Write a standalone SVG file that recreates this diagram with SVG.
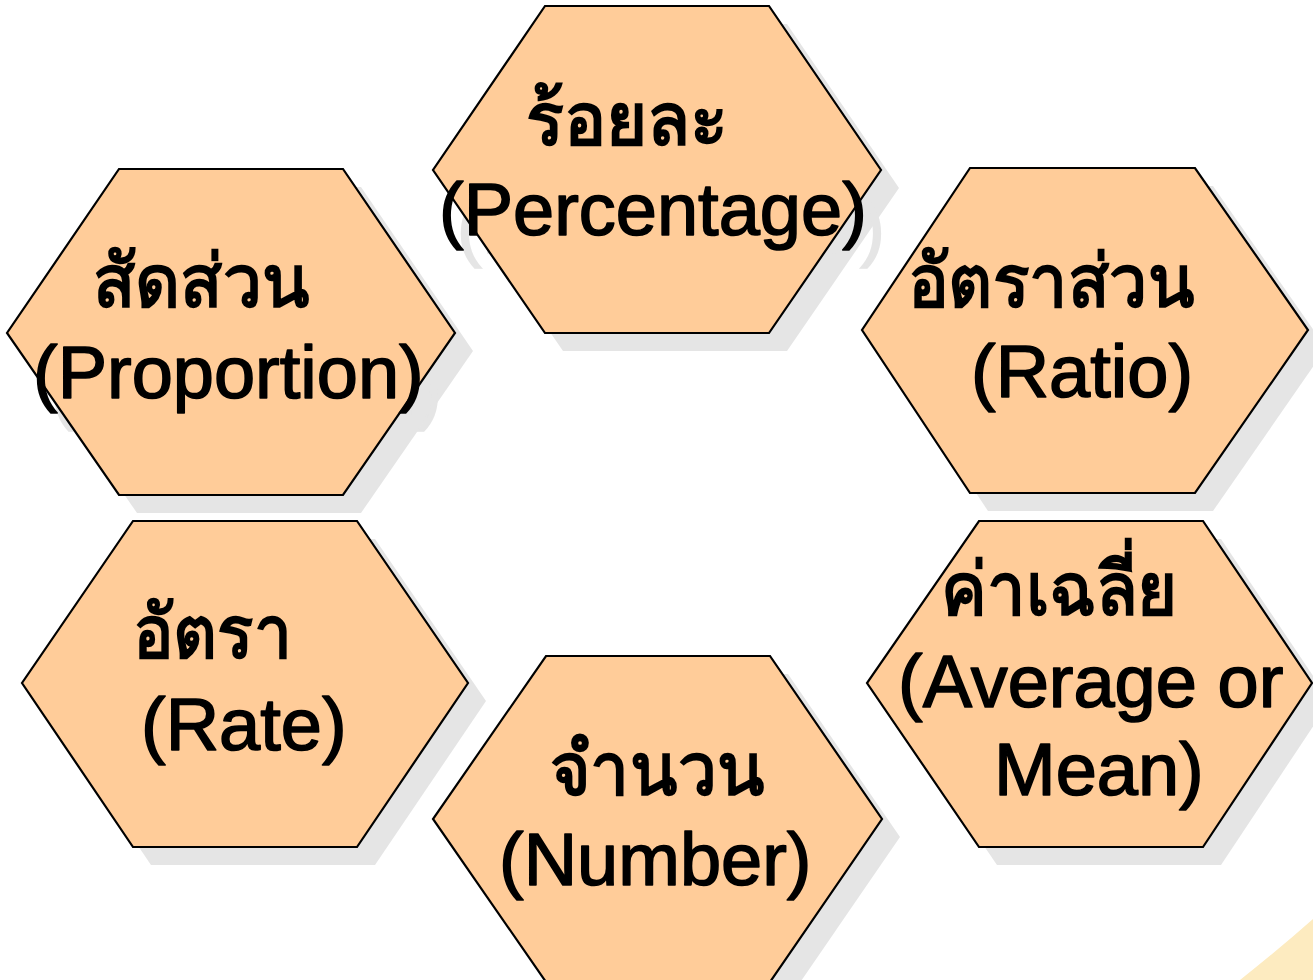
<svg xmlns="http://www.w3.org/2000/svg" width="1313" height="980" viewBox="0 0 1313 980">
  <style>
    .hex { fill: #ffcc99; stroke: #000; stroke-width: 2.2; stroke-linejoin: miter; }
    .shadow { fill: #e5e5e5; stroke: none; }
    .shadow text { stroke: #e5e5e5; stroke-width: 1.6; }
    .th { font-family: "Noto Sans", "DejaVu Sans", "Liberation Sans", sans-serif; font-weight: bold; font-size: 74px; }
    .en { font-family: "Liberation Sans", Arial, sans-serif; font-size: 74px; }
    .label { fill: #000; }
    .en.label { stroke: #000; stroke-width: 1.6; stroke-linejoin: round; }
  </style>

  <rect width="1313" height="980" fill="#ffffff"/>
  <!-- pale corner accent -->
  <path d="M1240,980 Q1278,950 1313,919 L1313,980 Z" fill="#fdebc0"/>

  <!-- drop shadows (shape + text), offset 18px down-right -->
  <g id="shadows" class="shadow" transform="translate(18,18)">
    <polygon points="545,6 769,6 881,170 769,333 545,333 433,170"/>
    <text class="en" x="439" y="235">(Percentage)</text>
    <polygon points="119,169 343,169 455,333 343,495 119,495 7,333"/>
    <text class="en" x="33" y="398">(Proportion)</text>
    <polygon points="970,168 1195,168 1308,330 1195,493 970,493 862,330"/>
    <polygon points="133,521 357,521 468,683 357,847 133,847 22,683"/>
    <polygon points="979,521 1203,521 1312,683 1203,847 979,847 867,683"/>
    <polygon points="546,656 770,656 882,819 770,982 546,982 433,819"/>
  </g>

  <g id="node-percentage">
    <polygon class="hex" points="545,6 769,6 881,170 769,333 545,333 433,170"/>
    <text class="th label" x="526" y="145" textLength="202" lengthAdjust="spacingAndGlyphs">ร้อยละ</text>
    <text class="en label" x="439" y="235">(Percentage)</text>
  </g>

  <g id="node-proportion">
    <polygon class="hex" points="119,169 343,169 455,333 343,495 119,495 7,333"/>
    <text class="th label" x="93" y="307" textLength="217" lengthAdjust="spacingAndGlyphs">สัดส่วน</text>
    <text class="en label" x="33" y="398">(Proportion)</text>
  </g>

  <g id="node-ratio">
    <polygon class="hex" points="970,168 1195,168 1308,330 1195,493 970,493 862,330"/>
    <text class="th label" x="908" y="307" textLength="287" lengthAdjust="spacingAndGlyphs">อัตราส่วน</text>
    <text class="en label" x="971" y="397">(Ratio)</text>
  </g>

  <g id="node-rate">
    <polygon class="hex" points="133,521 357,521 468,683 357,847 133,847 22,683"/>
    <text class="th label" x="133" y="658" textLength="159" lengthAdjust="spacingAndGlyphs">อัตรา</text>
    <text class="en label" x="141" y="750">(Rate)</text>
  </g>

  <g id="node-average">
    <polygon class="hex" points="979,521 1203,521 1312,683 1203,847 979,847 867,683"/>
    <text class="th label" x="941" y="615" textLength="236" lengthAdjust="spacingAndGlyphs">ค่าเฉลี่ย</text>
    <text class="en label" x="898" y="707">(Average or</text>
    <text class="en label" x="994" y="795">Mean)</text>
  </g>

  <g id="node-number">
    <polygon class="hex" points="546,656 770,656 882,819 770,982 546,982 433,819"/>
    <text class="th label" x="550" y="795" textLength="215" lengthAdjust="spacingAndGlyphs">จำนวน</text>
    <text class="en label" x="499" y="885">(Number)</text>
  </g>

  <!-- no connectors in this figure -->
  <g id="connectors"/>
</svg>
